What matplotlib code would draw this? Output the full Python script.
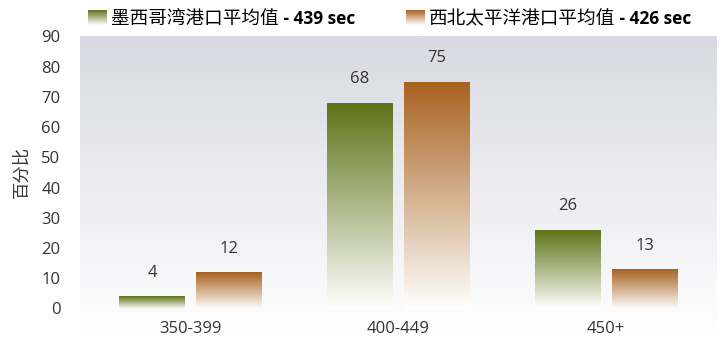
import numpy as np
import matplotlib
matplotlib.use("Agg")
import matplotlib.pyplot as plt
from matplotlib.colors import to_rgb

# --- DATA ---
categories = ["350-399", "400-449", "450+"]
gulf_vals = [4, 68, 26]
pacific_vals = [12, 75, 13]
series_names = ["墨西哥湾港口平均值", "西北太平洋港口平均值"]
series_suffix = [" - 439 sec", " - 426 sec"]
yticks = [0, 10, 20, 30, 40, 50, 60, 70, 80, 90]
ylabel = "百分比"

# --- STYLE ---
W, H = 725, 339
GREEN = "#5f7318"
ORANGE = "#a8621f"
BG_TOP = "#d9d9e3"
TXT = "#333333"
NUM_FONT = ["Open Sans", "DejaVu Sans"]
CJK_FONT = ["Noto Sans CJK SC", "DejaVu Sans"]


def grad(color, n=256):
    # top = colour, bottom = white
    c = np.array(to_rgb(color))
    t = np.linspace(0, 1, n)[:, None]
    rgb = c * (1 - t) + np.ones(3) * t
    return rgb[:, None, :]


fig = plt.figure(figsize=(W / 100, H / 100), dpi=100)

def px_rect(x0, y0, x1, y1):
    return [x0 / W, 1 - y1 / H, (x1 - x0) / W, (y1 - y0) / H]

# background gradient behind the plot
bg = fig.add_axes(px_rect(80, 36, 717, 336), zorder=0)
bg.imshow(grad(BG_TOP), aspect="auto", extent=(0, 1, 0, 1))
bg.axis("off")

ax = fig.add_axes(px_rect(80, 36.5, 717, 308.5), zorder=1)
ax.patch.set_alpha(0)

x = np.arange(len(categories))
bw = 0.317
offs = [-0.183, 0.187]

for vals, col, off in [(gulf_vals, GREEN, offs[0]), (pacific_vals, ORANGE, offs[1])]:
    bars = ax.bar(x + off, vals, bw, color="none", edgecolor="none")
    for b, v in zip(bars, vals):
        x0 = b.get_x()
        ax.imshow(grad(col), aspect="auto", extent=(x0, x0 + bw, 0, v), zorder=2)
        ax.annotate(str(v), (x0 + bw / 2, v), xytext=(0, 17), textcoords="offset points",
                    ha="center", va="center", fontsize=12, color=TXT, family=NUM_FONT)

ax.set_xlim(-0.529, 2.534)
ax.set_ylim(0, 90)
ax.set_yticks(yticks)
ax.set_xticks(x)
ax.set_xticklabels(categories)
ax.tick_params(length=0, labelsize=12, labelcolor=TXT)
ax.tick_params(axis="y", pad=14)
ax.tick_params(axis="x", pad=9)
for lab in ax.get_xticklabels() + ax.get_yticklabels():
    lab.set_family(NUM_FONT)
for s in ax.spines.values():
    s.set_visible(False)

fig.text(22 / W, 1 - 172 / H, ylabel, rotation=90, ha="center", va="center",
         fontsize=12.5, color=TXT, family=CJK_FONT)

# legend (gradient swatches + text with bold suffix)
leg_x = [88, 406]
leg_cols = [GREEN, ORANGE]
fig.canvas.draw()
r = fig.canvas.get_renderer()
for lx, col, name, suf in zip(leg_x, leg_cols, series_names, series_suffix):
    sw = fig.add_axes(px_rect(lx, 10, lx + 19, 25), zorder=2)
    sw.imshow(grad(col), aspect="auto", extent=(0, 1, 0, 1))
    sw.axis("off")
    t = fig.text((lx + 23) / W, 1 - 19 / H, name, ha="left", va="center",
                 fontsize=13.4, color="black", family=CJK_FONT)
    bb = t.get_window_extent(renderer=r)
    fig.text(bb.x1 / W, 1 - 19.5 / H, suf, ha="left", va="center",
             fontsize=12.5, fontweight="bold", color="black", family=NUM_FONT)

fig.savefig("out.png", dpi=100)
